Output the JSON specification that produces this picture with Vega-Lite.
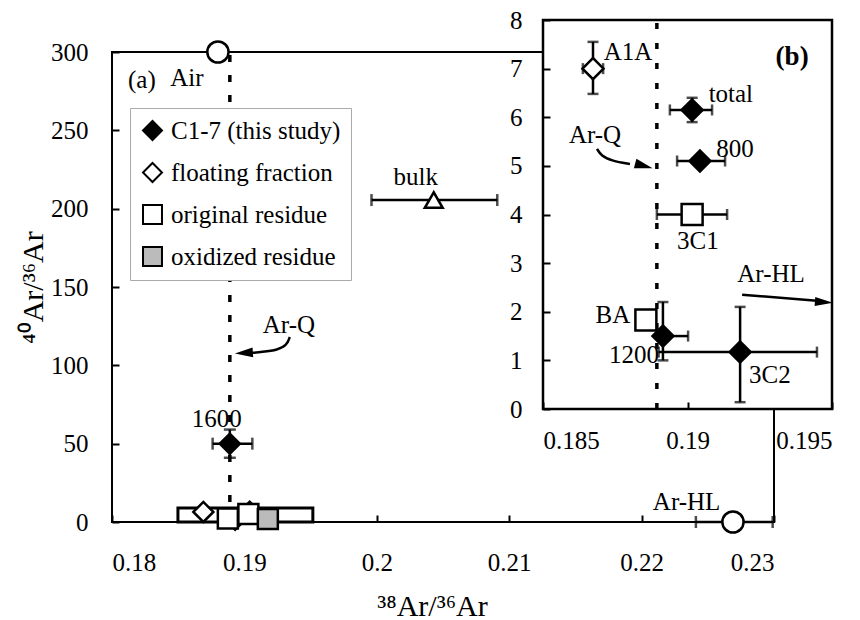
{
  "$schema": "https://vega.github.io/schema/vega-lite/v6.json",
  "width": 662,
  "height": 470,
  "autosize": {"type": "none"},
  "padding": {"left": 112, "top": 52, "right": 86, "bottom": 98},
  "background": "white",
  "config": {
    "font": "Liberation Serif",
    "view": {"stroke": "black", "strokeWidth": 2},
    "axis": {"grid": false, "labelFont": "Liberation Serif", "labelFontSize": 25, "labelColor": "black", "tickColor": "black", "tickWidth": 2, "domainColor": "black", "titleFont": "Liberation Serif", "titleColor": "black", "titleFontWeight": "normal"},
    "text": {"font": "Liberation Serif", "fontSize": 25, "color": "black", "baseline": "alphabetic", "align": "center"}
  },
  "datasets": {
    "main_q": [{"x": 0.1889, "y": 0, "y2": 300}],
    "main_box": [{"x": 0.18498, "x2": 0.19517, "y": 0, "y2": 9}],
    "main_xerr": [
      {"y": 205.5, "lo": 0.1996, "hi": 0.2091},
      {"y": 50, "lo": 0.1876, "hi": 0.1906},
      {"y": 0, "lo": 0.2241, "hi": 0.2299}
    ],
    "main_yerr": [{"x": 0.1889, "lo": 41, "hi": 59}],
    "main_pts": [
      {"x": 0.1904, "y": 6.5, "type": "C1-7 (this study)"},
      {"x": 0.1893, "y": 1.5, "type": "C1-7 (this study)"},
      {"x": 0.1889, "y": 50, "type": "C1-7 (this study)"},
      {"x": 0.1869, "y": 6.4, "type": "floating fraction"},
      {"x": 0.18875, "y": 2.2, "type": "original residue"},
      {"x": 0.1903, "y": 5.1, "type": "original residue"},
      {"x": 0.19177, "y": 1.9, "type": "oxidized residue"}
    ],
    "main_circ": [{"x": 0.188, "y": 300, "name": "Air"}, {"x": 0.2269, "y": 0, "name": "Ar-HL"}],
    "main_tri": [{"x": 0.2043, "y": 205.5, "name": "bulk"}],
    "main_arrow": [
      {"i": 0, "x": 0.19343, "y": 118.1},
      {"i": 1, "x": 0.19321, "y": 113.0},
      {"i": 2, "x": 0.19253, "y": 109.8},
      {"i": 3, "x": 0.19132, "y": 108.5},
      {"i": 4, "x": 0.19042, "y": 107.9}
    ],
    "main_head": [{"x": 0.18996, "y": 107.9}],
    "main_lab": [
      {"x": 0.18226, "y": 277, "text": "(a)"},
      {"x": 0.18566, "y": 278.3, "text": "Air"},
      {"x": 0.20294, "y": 215.1, "text": "bulk"},
      {"x": 0.18792, "y": 60.6, "text": "1600"},
      {"x": 0.19336, "y": 120.6, "text": "Ar-Q"},
      {"x": 0.2234, "y": 7.7, "text": "Ar-HL"}
    ],
    "inset_frame": [{"x": 0.185, "x2": 0.195, "y": 0, "y2": 8}],
    "inset_q": [{"x": 0.18894, "y": 0, "y2": 8}],
    "inset_xerr": [
      {"y": 7.0, "lo": 0.18638, "hi": 0.18708},
      {"y": 6.15, "lo": 0.18939, "hi": 0.19085},
      {"y": 5.1, "lo": 0.18964, "hi": 0.1913},
      {"y": 4.0, "lo": 0.18894, "hi": 0.19137},
      {"y": 1.5, "lo": 0.189, "hi": 0.19002},
      {"y": 1.17, "lo": 0.189, "hi": 0.19448}
    ],
    "inset_yerr": [
      {"x": 0.18673, "lo": 6.48, "hi": 7.55},
      {"x": 0.19016, "lo": 5.9, "hi": 6.4},
      {"x": 0.18915, "lo": 1.0, "hi": 2.2},
      {"x": 0.19182, "lo": 0.14, "hi": 2.1}
    ],
    "inset_pts": [
      {"x": 0.18673, "y": 7.0, "type": "floating fraction"},
      {"x": 0.19016, "y": 6.15, "type": "C1-7 (this study)"},
      {"x": 0.19043, "y": 5.1, "type": "C1-7 (this study)"},
      {"x": 0.19016, "y": 4.0, "type": "original residue"},
      {"x": 0.18856, "y": 1.83, "type": "original residue"},
      {"x": 0.18915, "y": 1.5, "type": "C1-7 (this study)"},
      {"x": 0.19182, "y": 1.17, "type": "C1-7 (this study)"}
    ],
    "inset_arrows": [
      {"id": "q", "i": 0, "x": 0.18687, "y": 5.35},
      {"id": "q", "i": 1, "x": 0.18701, "y": 5.21},
      {"id": "q", "i": 2, "x": 0.18739, "y": 5.1},
      {"id": "q", "i": 3, "x": 0.18801, "y": 5.04},
      {"id": "hl", "i": 0, "x": 0.19189, "y": 2.35},
      {"id": "hl", "i": 1, "x": 0.19458, "y": 2.22}
    ],
    "inset_head_q": [{"x": 0.18849, "y": 5.0}],
    "inset_head_hl": [{"x": 0.19472, "y": 2.2}],
    "inset_lab": [
      {"x": 0.18794, "y": 7.18, "text": "A1A"},
      {"x": 0.1915, "y": 6.32, "text": "total"},
      {"x": 0.19164, "y": 5.19, "text": "800"},
      {"x": 0.1868, "y": 5.47, "text": "Ar-Q"},
      {"x": 0.19036, "y": 3.29, "text": "3C1"},
      {"x": 0.19289, "y": 2.61, "text": "Ar-HL"},
      {"x": 0.18742, "y": 1.77, "text": "BA"},
      {"x": 0.18815, "y": 0.95, "text": "1200"},
      {"x": 0.19285, "y": 0.53, "text": "3C2"}
    ],
    "inset_bold": [{"x": 0.19362, "y": 7.08, "text": "(b)"}]
  },
  "layer": [
    {
      "layer": [
        {
          "data": {"name": "main_q"},
          "mark": {"type": "rule", "strokeDash": [7, 13], "strokeWidth": 3.5, "color": "black"},
          "encoding": {
            "x": {"field": "x", "type": "quantitative", "title": "³⁸Ar/³⁶Ar", "scale": {"domain": [0.18, 0.23], "nice": false, "zero": false}, "axis": {"orient": "bottom", "title": "³⁸Ar/³⁶Ar", "values": [0.18, 0.19, 0.2, 0.21, 0.22, 0.23], "format": "~g", "tickSize": -7, "labelPadding": 35, "domain": false, "titleFontSize": 30, "titlePadding": 16, "titleX": 320}},
            "y": {"field": "y", "type": "quantitative", "title": "⁴⁰Ar/³⁶Ar", "scale": {"domain": [0, 300], "nice": false, "zero": false}, "axis": {"orient": "left", "title": "⁴⁰Ar/³⁶Ar", "values": [0, 50, 100, 150, 200, 250, 300], "tickSize": -7, "labelPadding": 31, "domain": false, "titleFontSize": 30, "titlePadding": 2}},
            "y2": {"field": "y2"}
          }
        },
        {
          "data": {"name": "main_box"},
          "mark": {"type": "rect", "fill": "white", "stroke": "black", "strokeWidth": 3},
          "encoding": {
            "x": {"field": "x", "type": "quantitative", "title": "³⁸Ar/³⁶Ar", "scale": {"domain": [0.18, 0.23], "nice": false, "zero": false}},
            "x2": {"field": "x2"},
            "y": {"field": "y", "type": "quantitative", "title": "⁴⁰Ar/³⁶Ar", "scale": {"domain": [0, 300], "nice": false, "zero": false}},
            "y2": {"field": "y2"}
          }
        },
        {
          "data": {"name": "main_xerr"},
          "mark": {"type": "errorbar", "color": "black", "ticks": {"size": 12, "thickness": 2.5, "color": "black"}, "rule": {"strokeWidth": 2.5}},
          "encoding": {
            "x": {"field": "lo", "type": "quantitative", "title": "³⁸Ar/³⁶Ar", "scale": {"domain": [0.18, 0.23], "nice": false, "zero": false}},
            "x2": {"field": "hi"},
            "y": {"field": "y", "type": "quantitative", "title": "⁴⁰Ar/³⁶Ar", "scale": {"domain": [0, 300], "nice": false, "zero": false}}
          }
        },
        {
          "data": {"name": "main_yerr"},
          "mark": {"type": "errorbar", "color": "black", "ticks": {"size": 12, "thickness": 2.5, "color": "black"}, "rule": {"strokeWidth": 2.5}},
          "encoding": {
            "y": {"field": "lo", "type": "quantitative", "title": "⁴⁰Ar/³⁶Ar", "scale": {"domain": [0, 300], "nice": false, "zero": false}},
            "y2": {"field": "hi"},
            "x": {"field": "x", "type": "quantitative", "title": "³⁸Ar/³⁶Ar", "scale": {"domain": [0.18, 0.23], "nice": false, "zero": false}}
          }
        },
        {
          "data": {"name": "main_pts"},
          "mark": {"type": "point", "filled": true, "stroke": "black", "strokeWidth": 2.5, "size": 400, "opacity": 1},
          "encoding": {
            "x": {"field": "x", "type": "quantitative", "title": "³⁸Ar/³⁶Ar", "scale": {"domain": [0.18, 0.23], "nice": false, "zero": false}},
            "y": {"field": "y", "type": "quantitative", "title": "⁴⁰Ar/³⁶Ar", "scale": {"domain": [0, 300], "nice": false, "zero": false}},
            "stroke": {"value": "black"},
            "strokeWidth": {"value": 2.5},
            "shape": {"field": "type", "type": "nominal", "scale": {"domain": ["C1-7 (this study)", "floating fraction", "original residue", "oxidized residue"], "range": ["diamond", "diamond", "square", "square"]}, "legend": {"orient": "none", "legendX": 18, "legendY": 56, "title": null, "labelFont": "Liberation Serif", "labelFontSize": 25, "labelColor": "black", "labelLimit": 400, "symbolSize": 360, "symbolStrokeWidth": 2, "rowPadding": 15, "padding": 10, "labelOffset": 6, "strokeColor": "#aaaaaa", "fillColor": "white"}},
            "fill": {"field": "type", "type": "nominal", "scale": {"domain": ["C1-7 (this study)", "floating fraction", "original residue", "oxidized residue"], "range": ["black", "white", "white", "#bbbbbb"]}, "legend": {"orient": "none", "legendX": 18, "legendY": 56, "title": null, "labelFont": "Liberation Serif", "labelFontSize": 25, "labelColor": "black", "labelLimit": 400, "symbolSize": 360, "symbolStrokeWidth": 2, "rowPadding": 15, "padding": 10, "labelOffset": 6, "strokeColor": "#aaaaaa", "fillColor": "white"}}
          }
        },
        {
          "data": {"name": "main_circ"},
          "mark": {"type": "point", "shape": "circle", "filled": true, "fill": "white", "stroke": "black", "strokeWidth": 2.5, "size": 450, "opacity": 1},
          "encoding": {
            "x": {"field": "x", "type": "quantitative", "title": "³⁸Ar/³⁶Ar", "scale": {"domain": [0.18, 0.23], "nice": false, "zero": false}},
            "y": {"field": "y", "type": "quantitative", "title": "⁴⁰Ar/³⁶Ar", "scale": {"domain": [0, 300], "nice": false, "zero": false}}
          }
        },
        {
          "data": {"name": "main_tri"},
          "mark": {"type": "point", "shape": "triangle-up", "filled": true, "fill": "white", "stroke": "black", "strokeWidth": 2.5, "size": 320, "opacity": 1},
          "encoding": {
            "x": {"field": "x", "type": "quantitative", "title": "³⁸Ar/³⁶Ar", "scale": {"domain": [0.18, 0.23], "nice": false, "zero": false}},
            "y": {"field": "y", "type": "quantitative", "title": "⁴⁰Ar/³⁶Ar", "scale": {"domain": [0, 300], "nice": false, "zero": false}}
          }
        },
        {
          "data": {"name": "main_arrow"},
          "mark": {"type": "line", "color": "black", "strokeWidth": 2.5, "interpolate": "basis"},
          "encoding": {
            "x": {"field": "x", "type": "quantitative", "title": "³⁸Ar/³⁶Ar", "scale": {"domain": [0.18, 0.23], "nice": false, "zero": false}},
            "y": {"field": "y", "type": "quantitative", "title": "⁴⁰Ar/³⁶Ar", "scale": {"domain": [0, 300], "nice": false, "zero": false}},
            "order": {"field": "i", "type": "quantitative"}
          }
        },
        {
          "data": {"name": "main_head"},
          "mark": {"type": "point", "shape": "M-1,0L1,-0.55L1,0.55Z", "filled": true, "color": "black", "size": 324, "opacity": 1, "angle": -4},
          "encoding": {
            "x": {"field": "x", "type": "quantitative", "title": "³⁸Ar/³⁶Ar", "scale": {"domain": [0.18, 0.23], "nice": false, "zero": false}},
            "y": {"field": "y", "type": "quantitative", "title": "⁴⁰Ar/³⁶Ar", "scale": {"domain": [0, 300], "nice": false, "zero": false}}
          }
        },
        {
          "data": {"name": "main_lab"},
          "mark": {"type": "text", "font": "Liberation Serif", "fontSize": 25},
          "encoding": {
            "x": {"field": "x", "type": "quantitative", "title": "³⁸Ar/³⁶Ar", "scale": {"domain": [0.18, 0.23], "nice": false, "zero": false}},
            "y": {"field": "y", "type": "quantitative", "title": "⁴⁰Ar/³⁶Ar", "scale": {"domain": [0, 300], "nice": false, "zero": false}},
            "text": {"field": "text"}
          }
        }
      ]
    },
    {
      "layer": [
        {
          "data": {"name": "inset_frame"},
          "mark": {"type": "rect", "fill": "white", "stroke": "black", "strokeWidth": 2.5},
          "encoding": {
            "x": {"field": "x", "type": "quantitative", "scale": {"domain": [0.185, 0.195], "range": [431, 720], "nice": false, "zero": false}, "axis": {"orient": "bottom", "offset": -113, "title": null, "values": [0.185, 0.19, 0.195], "format": "~g", "tickSize": -7, "labelPadding": 26, "domain": false, "zindex": 1}},
            "x2": {"field": "x2"},
            "y": {"field": "y", "type": "quantitative", "scale": {"domain": [0, 8], "range": [357, -32], "nice": false, "zero": false}, "axis": {"orient": "left", "offset": -431, "title": null, "values": [0, 1, 2, 3, 4, 5, 6, 7, 8], "format": "d", "tickSize": -7, "labelPadding": 28, "domain": false, "zindex": 1}},
            "y2": {"field": "y2"}
          }
        },
        {
          "data": {"name": "inset_q"},
          "mark": {"type": "rule", "strokeDash": [6, 14], "strokeWidth": 3.5, "color": "black"},
          "encoding": {
            "x": {"field": "x", "type": "quantitative", "scale": {"domain": [0.185, 0.195], "range": [431, 720], "nice": false, "zero": false}},
            "y": {"field": "y", "type": "quantitative", "scale": {"domain": [0, 8], "range": [357, -32], "nice": false, "zero": false}},
            "y2": {"field": "y2"}
          }
        },
        {
          "data": {"name": "inset_xerr"},
          "mark": {"type": "errorbar", "color": "black", "ticks": {"size": 11, "thickness": 2.5, "color": "black"}, "rule": {"strokeWidth": 2.5}},
          "encoding": {
            "x": {"field": "lo", "type": "quantitative", "scale": {"domain": [0.185, 0.195], "range": [431, 720], "nice": false, "zero": false}},
            "x2": {"field": "hi"},
            "y": {"field": "y", "type": "quantitative", "scale": {"domain": [0, 8], "range": [357, -32], "nice": false, "zero": false}}
          }
        },
        {
          "data": {"name": "inset_yerr"},
          "mark": {"type": "errorbar", "color": "black", "ticks": {"size": 11, "thickness": 2.5, "color": "black"}, "rule": {"strokeWidth": 2.5}},
          "encoding": {
            "y": {"field": "lo", "type": "quantitative", "scale": {"domain": [0, 8], "range": [357, -32], "nice": false, "zero": false}},
            "y2": {"field": "hi"},
            "x": {"field": "x", "type": "quantitative", "scale": {"domain": [0.185, 0.195], "range": [431, 720], "nice": false, "zero": false}}
          }
        },
        {
          "data": {"name": "inset_pts"},
          "mark": {"type": "point", "filled": true, "stroke": "black", "strokeWidth": 2.5, "size": 440, "opacity": 1},
          "encoding": {
            "x": {"field": "x", "type": "quantitative", "scale": {"domain": [0.185, 0.195], "range": [431, 720], "nice": false, "zero": false}},
            "y": {"field": "y", "type": "quantitative", "scale": {"domain": [0, 8], "range": [357, -32], "nice": false, "zero": false}},
            "stroke": {"value": "black"},
            "strokeWidth": {"value": 2.5},
            "shape": {"field": "type", "type": "nominal"},
            "fill": {"field": "type", "type": "nominal"}
          }
        },
        {
          "data": {"name": "inset_arrows"},
          "mark": {"type": "line", "color": "black", "strokeWidth": 2.5, "interpolate": "basis"},
          "encoding": {
            "x": {"field": "x", "type": "quantitative", "scale": {"domain": [0.185, 0.195], "range": [431, 720], "nice": false, "zero": false}},
            "y": {"field": "y", "type": "quantitative", "scale": {"domain": [0, 8], "range": [357, -32], "nice": false, "zero": false}},
            "detail": {"field": "id"},
            "order": {"field": "i", "type": "quantitative"}
          }
        },
        {
          "data": {"name": "inset_head_q"},
          "mark": {"type": "point", "shape": "M1,0L-1,-0.55L-1,0.55Z", "filled": true, "color": "black", "size": 324, "opacity": 1, "angle": 15},
          "encoding": {
            "x": {"field": "x", "type": "quantitative", "scale": {"domain": [0.185, 0.195], "range": [431, 720], "nice": false, "zero": false}},
            "y": {"field": "y", "type": "quantitative", "scale": {"domain": [0, 8], "range": [357, -32], "nice": false, "zero": false}}
          }
        },
        {
          "data": {"name": "inset_head_hl"},
          "mark": {"type": "point", "shape": "M1,0L-1,-0.5L-1,0.5Z", "filled": true, "color": "black", "size": 324, "opacity": 1, "angle": 4},
          "encoding": {
            "x": {"field": "x", "type": "quantitative", "scale": {"domain": [0.185, 0.195], "range": [431, 720], "nice": false, "zero": false}},
            "y": {"field": "y", "type": "quantitative", "scale": {"domain": [0, 8], "range": [357, -32], "nice": false, "zero": false}}
          }
        },
        {
          "data": {"name": "inset_lab"},
          "mark": {"type": "text", "font": "Liberation Serif", "fontSize": 25},
          "encoding": {
            "x": {"field": "x", "type": "quantitative", "scale": {"domain": [0.185, 0.195], "range": [431, 720], "nice": false, "zero": false}},
            "y": {"field": "y", "type": "quantitative", "scale": {"domain": [0, 8], "range": [357, -32], "nice": false, "zero": false}},
            "text": {"field": "text"}
          }
        },
        {
          "data": {"name": "inset_bold"},
          "mark": {"type": "text", "font": "Liberation Serif", "fontSize": 27, "fontWeight": "bold"},
          "encoding": {
            "x": {"field": "x", "type": "quantitative", "scale": {"domain": [0.185, 0.195], "range": [431, 720], "nice": false, "zero": false}},
            "y": {"field": "y", "type": "quantitative", "scale": {"domain": [0, 8], "range": [357, -32], "nice": false, "zero": false}},
            "text": {"field": "text"}
          }
        }
      ]
    }
  ],
  "resolve": {"scale": {"x": "independent", "y": "independent"}, "axis": {"x": "independent", "y": "independent"}}
}
